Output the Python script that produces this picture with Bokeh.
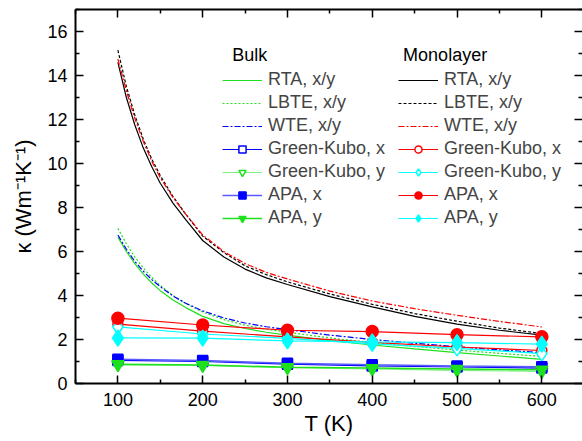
from bokeh.plotting import figure
from bokeh.models import (Legend, LegendItem, FixedTicker, LinearAxis, Range1d,
                          CustomLabelingPolicy, Label)
from bokeh.embed import file_html
from bokeh.resources import INLINE

# ---------------- data ----------------
T_pts = [100, 200, 300, 400, 500, 600]
T_curve = [100, 110, 120, 130, 140, 150, 165, 180, 200, 225, 250, 275, 300,
           350, 400, 450, 500, 550, 600]

bulk_rta = [6.65, 6.0, 5.45, 4.97, 4.57, 4.22, 3.8, 3.45, 3.05, 2.72, 2.5, 2.33, 2.2,
            1.95, 1.75, 1.57, 1.4, 1.25, 1.1]
bulk_lbte = [7.05, 6.35, 5.75, 5.25, 4.82, 4.45, 4.0, 3.63, 3.25, 2.9, 2.65, 2.47, 2.33,
             2.07, 1.86, 1.68, 1.52, 1.37, 1.23]
bulk_wte = [6.75, 6.1, 5.55, 5.1, 4.72, 4.4, 3.98, 3.65, 3.3, 2.98, 2.75, 2.58, 2.45,
            2.2, 2.0, 1.83, 1.67, 1.53, 1.4]

mono_rta = [14.6, 13.0, 11.75, 10.7, 9.85, 9.1, 8.2, 7.45, 6.5, 5.75, 5.2, 4.8, 4.5,
            3.95, 3.48, 3.05, 2.7, 2.42, 2.2]
mono_lbte = [15.15, 13.5, 12.2, 11.1, 10.2, 9.45, 8.5, 7.7, 6.7, 5.95, 5.35, 4.95, 4.62,
             4.07, 3.6, 3.18, 2.83, 2.52, 2.27]
mono_wte = [14.75, 13.3, 12.05, 11.0, 10.1, 9.35, 8.45, 7.7, 6.75, 6.0, 5.45, 5.05, 4.75,
            4.2, 3.75, 3.4, 3.1, 2.82, 2.57]

bulk_gk_x = [1.05, 1.0, 0.88, 0.8, 0.75, 0.7]
bulk_gk_y = [0.85, 0.82, 0.72, 0.66, 0.6, 0.55]
bulk_apa_x = [1.1, 1.05, 0.92, 0.85, 0.8, 0.76]
bulk_apa_y = [0.88, 0.84, 0.74, 0.7, 0.66, 0.63]

mono_gk_x = [2.7, 2.38, 2.12, 1.87, 1.66, 1.5]
mono_gk_y = [2.57, 2.25, 2.05, 1.8, 1.6, 1.36]
mono_apa_x = [2.97, 2.66, 2.42, 2.36, 2.22, 2.12]
mono_apa_y = [2.07, 2.06, 1.94, 1.89, 1.86, 1.79]

x_major = [100, 200, 300, 400, 500, 600]
x_minor = [50, 150, 250, 350, 450, 550, 650]
y_major = [0, 2, 4, 6, 8, 10, 12, 14, 16]
y_minor = [1, 3, 5, 7, 9, 11, 13, 15, 17]

# ---------------- styles ----------------
FONT = "Liberation Sans"
GREEN = "#1EE11E"
LGREEN = "#7CF07C"
BLUE = "#0000FF"
LBLUE = "#5A5AFF"
RED = "#FF0000"
CYAN = "#00FFFF"
BLACK = "#000000"

p = figure(width=582, height=441, output_backend="svg", toolbar_location=None,
           x_range=Range1d(50, 648), y_range=Range1d(0, 17),
           x_axis_location=None, y_axis_location=None,
           min_border_left=75, min_border_right=0, min_border_top=9,
           min_border_bottom=58)
p.outline_line_color = None
p.grid.visible = False
p.background_fill_color = "white"
p.border_fill_color = "white"

hide_labels = CustomLabelingPolicy(code="""
const all = [...indices];
for (const i of all) indices.unset(i);
return indices;
""")


def style_axis(ax, labels=True, line=True):
    ax.major_tick_in = 8
    ax.major_tick_out = 0
    ax.minor_tick_in = 4
    ax.minor_tick_out = 0
    ax.major_tick_line_color = BLACK
    ax.minor_tick_line_color = BLACK
    ax.major_tick_line_width = 1.5
    ax.minor_tick_line_width = 1.5
    ax.axis_line_width = 2
    ax.axis_line_color = BLACK if line else None
    if labels:
        ax.major_label_text_font = FONT
        ax.major_label_text_font_size = "18px"
        ax.major_label_text_color = BLACK
        ax.axis_label_text_font = FONT
        ax.axis_label_text_font_size = "22px"
        ax.axis_label_text_font_style = "normal"
        ax.axis_label_text_color = BLACK
    else:
        ax.major_label_policy = hide_labels
        ax.major_label_text_font_size = "0px"
        ax.major_label_standoff = 0


xb = LinearAxis(ticker=FixedTicker(ticks=x_major, minor_ticks=x_minor),
                axis_label="T (K)", major_label_standoff=9, axis_label_standoff=2)
style_axis(xb)
yl = LinearAxis(ticker=FixedTicker(ticks=y_major, minor_ticks=y_minor),
                axis_label="κ (Wm⁻¹K⁻¹)", major_label_standoff=8, axis_label_standoff=8)
style_axis(yl)
xa = LinearAxis(ticker=FixedTicker(ticks=x_major, minor_ticks=x_minor))
style_axis(xa, labels=False)
yr = LinearAxis(ticker=FixedTicker(ticks=y_major, minor_ticks=y_minor))
style_axis(yr, labels=False, line=False)
p.add_layout(xb, "below")
p.add_layout(yl, "left")
p.add_layout(xa, "above")
p.add_layout(yr, "right")

# ---------------- curves ----------------
c_b_rta = p.line(T_curve, bulk_rta, line_color=GREEN, line_width=1.2)
c_b_lbte = p.line(T_curve, bulk_lbte, line_color=GREEN, line_width=1.2, line_dash="2 2")
c_b_wte = p.line(T_curve, bulk_wte, line_color=BLUE, line_width=1.2, line_dash="6 2 2 2")
c_m_rta = p.line(T_curve, mono_rta, line_color=BLACK, line_width=1.2)
c_m_lbte = p.line(T_curve, mono_lbte, line_color=BLACK, line_width=1.2, line_dash="3 2")
c_m_wte = p.line(T_curve, mono_wte, line_color=RED, line_width=1.2, line_dash="6 2 2 2")

# ---------------- point series ----------------
def series(y, lcolor, mcolor, marker, size, filled, lw=1.2):
    l = p.line(T_pts, y, line_color=lcolor, line_width=lw)
    s = p.scatter(T_pts, y, marker=marker, size=size, line_color=mcolor,
                  line_width=1.5, fill_color=mcolor if filled else "white")
    return [l, s]

r_b_gkx = series(bulk_gk_x, BLUE, BLUE, "square", 10, False)
r_b_gky = series(bulk_gk_y, LGREEN, GREEN, "inverted_triangle", 12, False)
r_m_gkx = series(mono_gk_x, RED, RED, "circle", 10, False)
r_m_gky = series(mono_gk_y, CYAN, CYAN, "diamond", 15, False)
r_b_apax = series(bulk_apa_x, LBLUE, BLUE, "square", 10, True, lw=1.5)
r_b_apay = series(bulk_apa_y, GREEN, GREEN, "inverted_triangle", 12, True, lw=1.5)
r_m_apax = series(mono_apa_x, RED, RED, "circle", 12, True)
r_m_apay = series(mono_apa_y, CYAN, CYAN, "diamond", 16, True)

# ---------------- legends ----------------
def make_legend(items, loc):
    lg = Legend(items=items, location=loc)
    lg.border_line_color = None
    lg.background_fill_alpha = 0
    lg.padding = 0
    lg.margin = 0
    lg.spacing = 2
    lg.glyph_width = 40
    lg.glyph_height = 18
    lg.label_standoff = 6
    lg.label_text_font = FONT
    lg.label_text_font_size = "18px"
    lg.label_height = 18
    return lg

bulk_items = [
    LegendItem(label="RTA, x/y", renderers=[c_b_rta]),
    LegendItem(label="LBTE, x/y", renderers=[c_b_lbte]),
    LegendItem(label="WTE, x/y", renderers=[c_b_wte]),
    LegendItem(label="Green-Kubo, x", renderers=r_b_gkx),
    LegendItem(label="Green-Kubo, y", renderers=r_b_gky),
    LegendItem(label="APA, x", renderers=r_b_apax),
    LegendItem(label="APA, y", renderers=r_b_apay),
]
mono_items = [
    LegendItem(label="RTA, x/y", renderers=[c_m_rta]),
    LegendItem(label="LBTE, x/y", renderers=[c_m_lbte]),
    LegendItem(label="WTE, x/y", renderers=[c_m_wte]),
    LegendItem(label="Green-Kubo, x", renderers=r_m_gkx),
    LegendItem(label="Green-Kubo, y", renderers=r_m_gky),
    LegendItem(label="APA, x", renderers=r_m_apax),
    LegendItem(label="APA, y", renderers=r_m_apay),
]
p.add_layout(make_legend(bulk_items, (147, 155)))
p.add_layout(make_legend(mono_items, (323, 155)))

for txt, xpos in (("Bulk", 234.8), ("Monolayer", 436.4)):
    p.add_layout(Label(x=xpos, y=14.91, text=txt, text_font=FONT,
                       text_font_size="18px", text_baseline="middle",
                       text_align="left", text_color=BLACK))

open("out.html", "w").write(file_html(p, INLINE))
